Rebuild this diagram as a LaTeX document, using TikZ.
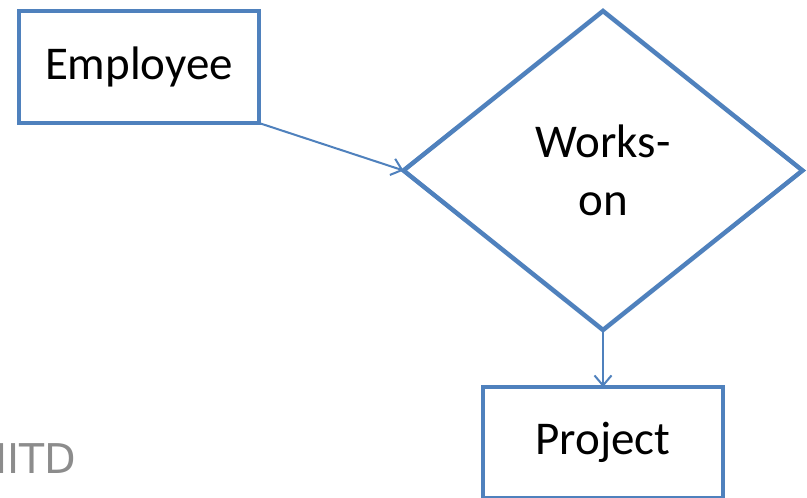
\documentclass[tikz,border=0pt]{standalone}
\usepackage{fontspec}
\setmainfont{Carlito}
\newfontfamily\footfont{DejaVu Sans}
\usetikzlibrary{shapes.geometric,arrows.meta}
\definecolor{erblue}{HTML}{4F81BD}
\definecolor{footgrey}{HTML}{8C8C8C}
\tikzset{
  entity/.style={draw=erblue, line width=4.5pt, rectangle, inner sep=0pt, outer sep=0pt,
    minimum width=240pt, minimum height=112pt, font=\fontsize{47}{58}\selectfont},
  relation/.style={draw=erblue, line width=4.5pt, diamond, inner sep=0pt, outer sep=0pt,
    minimum width=399pt, minimum height=319pt, align=center,
    font=\fontsize{47}{58}\selectfont},
  link/.style={draw=erblue, line width=2pt, -{Straight Barb[length=10pt,width=17pt,line width=2pt]}},
}
\begin{document}
\begin{tikzpicture}[x=1pt,y=-1pt]
  \useasboundingbox (0,0) rectangle (807,498);
  \clip (0,0) rectangle (807,498);
  \fill[white] (0,0) rectangle (807,498);
  \node[entity] (emp) at (139,67) {Employee};
  \node[relation] (works) at (603,170.5) {Works-\\on};
  \node[entity, minimum height=111pt] (proj) at (603,442.5) {Project};
  \node[anchor=base east, text=footgrey, inner sep=0pt,
        font=\footfont\fontsize{41}{48}\selectfont] (foot) at (76,473) {IIITD};
  \draw[link] (emp.south east) -- (works.west);
  \draw[link] (works.south) -- (proj.north);
\end{tikzpicture}
\end{document}
